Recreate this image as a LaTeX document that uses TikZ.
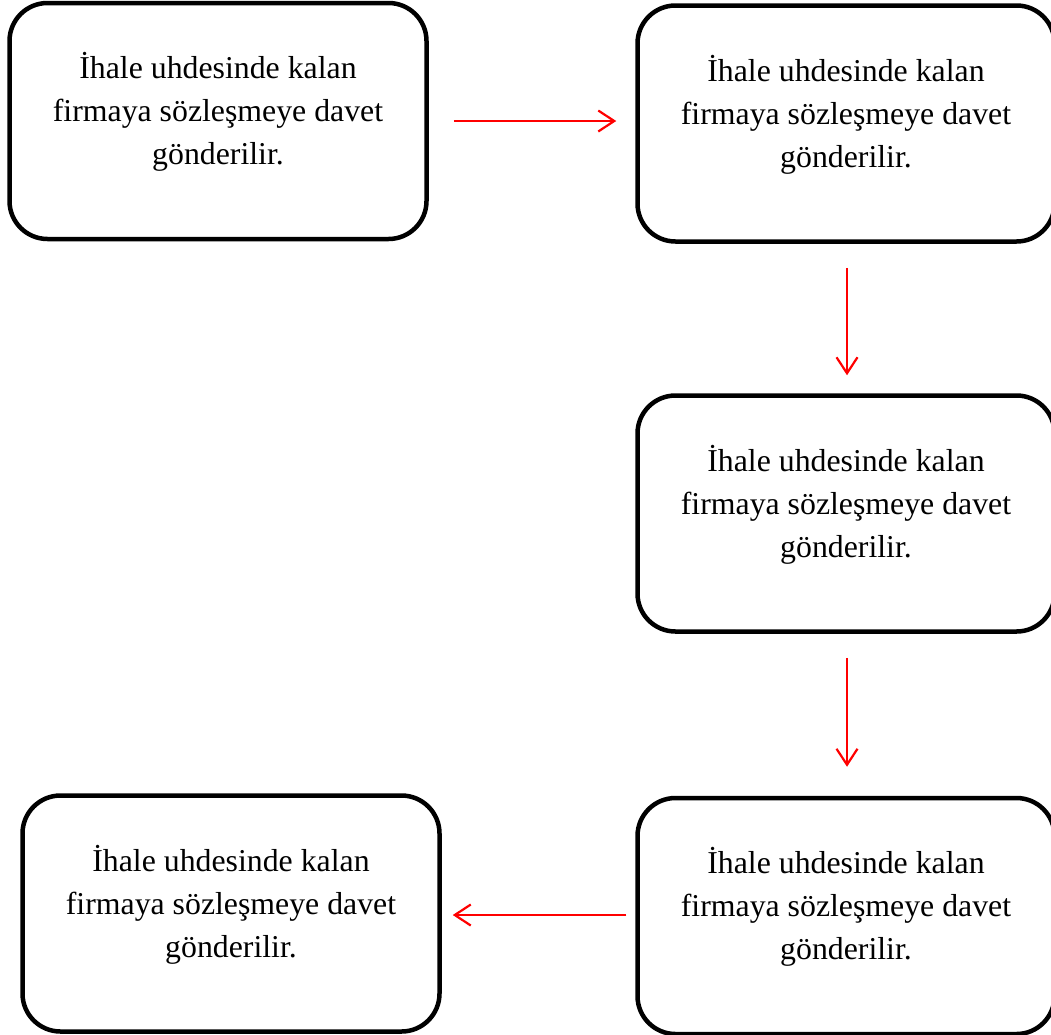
\documentclass[tikz,border=0pt]{standalone}
\usepackage{fontspec}
\setmainfont{Liberation Serif}
\usetikzlibrary{arrows.meta}
\begin{document}
\begin{tikzpicture}[x=1pt,y=-1pt,
  stagebox/.style={draw=black, line width=4.5pt, rounded corners=38pt,
    minimum width=417pt, minimum height=236pt, inner sep=0pt, outer sep=2.25pt},
  stagetext/.style={align=center, font=\fontsize{31.8pt}{43pt}\selectfont, yshift=9pt},
  flow/.style={draw=red, line width=2.2pt,
    -{Straight Barb[length=16pt,width=21pt,line width=2.2pt]}}]
  \useasboundingbox (0,0) rectangle (1051,1034);

  % the five stages
  \node[stagebox, label={[stagetext]center:İhale uhdesinde kalan\\firmaya sözleşmeye davet\\gönderilir.}] (b1) at (218,121) {};
  \node[stagebox, label={[stagetext]center:İhale uhdesinde kalan\\firmaya sözleşmeye davet\\gönderilir.}] (b2) at (846,123.5) {};
  \node[stagebox, label={[stagetext]center:İhale uhdesinde kalan\\firmaya sözleşmeye davet\\gönderilir.}] (b3) at (846,513.5) {};
  \node[stagebox, label={[stagetext]center:İhale uhdesinde kalan\\firmaya sözleşmeye davet\\gönderilir.}] (b4) at (846,916) {};
  \node[stagebox, label={[stagetext]center:İhale uhdesinde kalan\\firmaya sözleşmeye davet\\gönderilir.}] (b5) at (231,913.5) {};

  % connectors
  \draw[flow, shorten <=25pt, shorten >=19pt] (b1.east) -- (b1.east -| b2.west);
  \draw[flow, shorten <=24pt, shorten >=18pt] (b2.south -| 847,0) -- (b3.north -| 847,0);
  \draw[flow, shorten <=24pt, shorten >=29pt] (b3.south -| 847,0) -- (b4.north -| 847,0);
  \draw[flow, shorten <=9pt, shorten >=11pt] (b4.west |- 0,915) -- (b5.east |- 0,915);
\end{tikzpicture}
\end{document}
